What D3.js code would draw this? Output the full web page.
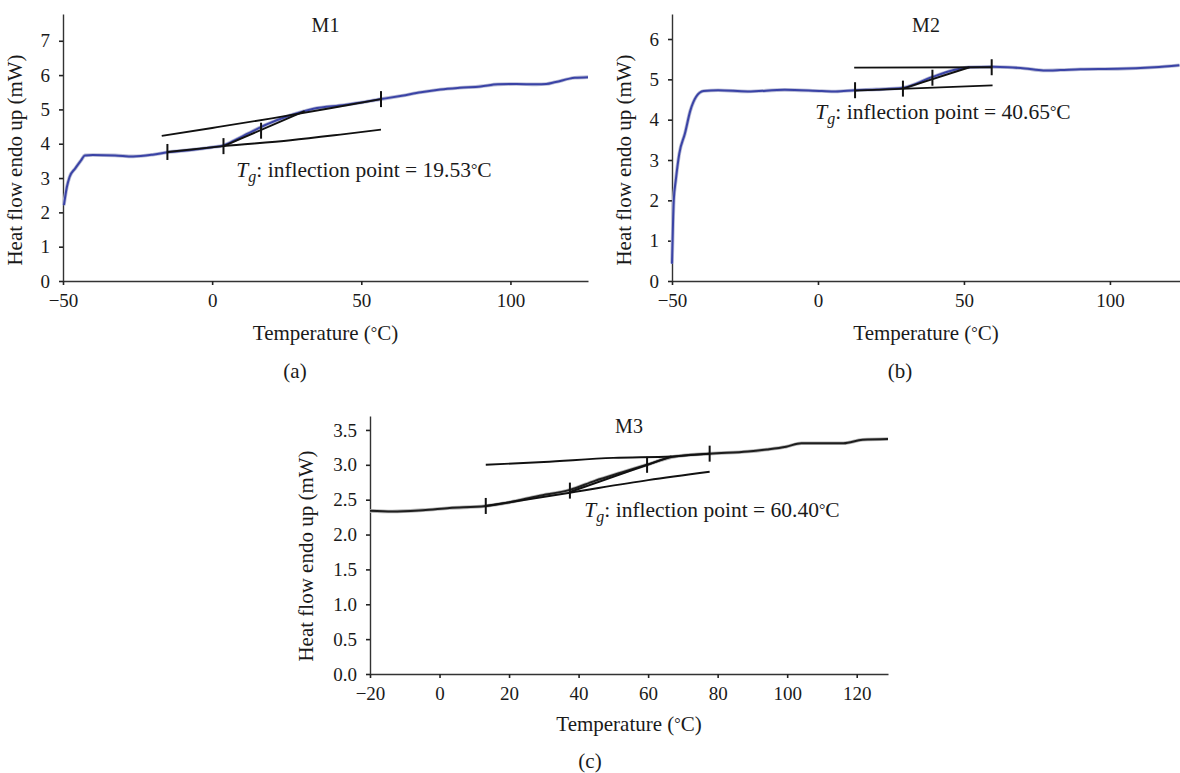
<!DOCTYPE html>
<html><head><meta charset="utf-8">
<script src="https://cdn.jsdelivr.net/npm/d3@7"></script>
<style>
body{margin:0;background:#fff}
svg text{font-family:"Liberation Serif","Times New Roman",serif;fill:#1a1a1a}
</style>
</head><body>
<svg id="chart" width="1180" height="773"></svg>
<script>
// ---------- data (temperature °C, heat flow mW) ----------
const m1Temp = [-49.7,-48.7,-47.8,-45.9,-43.9,-42.7,-40,-32.6,-26.5,-20,-15,-7,0,3.8,8,12.1,18.5,26.3,34,44.3,56.6,63.6,70,76.5,83,90,95.8,102,108.7,112,115.2,121.6,126];
const m1Heat = [2.21,2.74,3.03,3.28,3.52,3.66,3.67,3.66,3.63,3.68,3.75,3.82,3.9,3.95,4.12,4.30,4.57,4.83,5.02,5.13,5.30,5.40,5.50,5.58,5.63,5.67,5.73,5.74,5.73,5.74,5.80,5.92,5.94];
const m1Upper = [[-16.9,4.23],[0,4.46],[20,4.74],[40,5.04],[56.6,5.30]];
const m1Lower = [[-15,3.76],[3.8,3.93],[26.3,4.10],[44.3,4.28],[56.6,4.41]];
const m1Tangent = [[3.8,3.93],[31,4.95]];
const m1Marks = [[-15,3.76],[3.8,3.93],[16.4,4.38],[56.6,5.30]];

const m2Temp = [-50,-49.6,-49.4,-48.7,-47.5,-45.6,-43.7,-41.8,-39.2,-34.2,-24.1,-11.4,1.3,6,12.7,20,29.1,39.2,46,51.9,59.5,65,70.9,77.2,83,89.9,102.6,115.2,123.8];
const m2Heat = [0.43,1.59,2.0,2.5,3.16,3.65,4.23,4.56,4.71,4.73,4.70,4.74,4.71,4.70,4.73,4.75,4.79,5.06,5.22,5.30,5.31,5.30,5.27,5.22,5.23,5.25,5.26,5.30,5.35];
const m2Upper = [[12.4,5.29],[59.5,5.30]];
const m2Lower = [[12.7,4.72],[59.8,4.85]];
const m2Tangent = [[29.1,4.77],[51.9,5.30]];
const m2Marks = [[12.7,4.73],[29.1,4.77],[39.2,5.04],[59.5,5.30]];

const m3Temp = [-20,-13.6,-4.8,2.9,13.3,19.9,28.2,37.5,44.7,52.4,59.7,66.7,77.7,88.7,94.2,99.7,104.1,116.2,121.7,129];
const m3Heat = [2.34,2.33,2.35,2.38,2.41,2.46,2.55,2.64,2.77,2.89,3.0,3.11,3.16,3.19,3.22,3.26,3.31,3.31,3.36,3.37];
const m3Upper = [[13.3,3.0],[30,3.04],[50,3.10],[66.7,3.12],[77.7,3.16]];
const m3Lower = [[13.3,2.41],[37.5,2.60],[60,2.78],[77.7,2.90]];
const m3Tangent = [[37.5,2.61],[66.7,3.12]];
const m3Marks = [[13.3,2.41],[37.5,2.63],[59.7,3.0],[77.7,3.16]];

const xTicksAB = [-50,0,50,100];
const xTicksC = [-20,0,20,40,60,80,100,120];
const yTicksA = [0,1,2,3,4,5,6,7];
const yTicksB = [0,1,2,3,4,5,6];
const yTicksC = [0,0.5,1.0,1.5,2.0,2.5,3.0,3.5];
const sampleNames = ["M1","M2","M3"];
const tgValues = ["19.53","40.65","60.40"];
const panelLetters = ["(a)","(b)","(c)"];

// ---------- layout ----------
const FONT = '"Liberation Serif","Times New Roman",serif';
const panels = [
  {temp:m1Temp, heat:m1Heat, upper:m1Upper, lower:m1Lower, tan:m1Tangent, marks:m1Marks,
   xd:[-50,126], yd:[0,7.78], xr:[63,588], yr:[281,14], xt:xTicksAB, yt:yTicksA, yf:d3.format("d"),
   color:"#3a43a6", halo:"#b9bcd6", ytitle:[22,160], xtitleY:340, letter:[295,378], tg:[364,177], mY:32},
  {temp:m2Temp, heat:m2Heat, upper:m2Upper, lower:m2Lower, tan:m2Tangent, marks:m2Marks,
   xd:[-50,124], yd:[0,6.62], xr:[672,1180], yr:[281,14], xt:xTicksAB, yt:yTicksB, yf:d3.format("d"),
   color:"#3a43a6", halo:"#b9bcd6", ytitle:[631,160], xtitleY:340, letter:[900,378], tg:[943,119], mY:32},
  {temp:m3Temp, heat:m3Heat, upper:m3Upper, lower:m3Lower, tan:m3Tangent, marks:m3Marks,
   xd:[-20,129], yd:[0,3.7], xr:[370,888], yr:[674,416], xt:xTicksC, yt:yTicksC, yf:d3.format(".1f"),
   color:"#1e1e1e", halo:"#b5b5b5", ytitle:[313,556], xtitleY:731, letter:[590,768], tg:[712,517], mY:433}
];

const svg = d3.select("#chart");

panels.forEach((p,i)=>{
  const x = d3.scaleLinear().domain(p.xd).range(p.xr);
  const y = d3.scaleLinear().domain(p.yd).range(p.yr);
  const g = svg.append("g");

  // axes
  const xa = g.append("g").attr("transform",`translate(0,${p.yr[0]})`)
    .call(d3.axisBottom(x).tickValues(p.xt).tickSize(4).tickSizeOuter(0).tickPadding(9));
  const ya = g.append("g").attr("transform",`translate(${p.xr[0]},0)`)
    .call(d3.axisLeft(y).tickValues(p.yt).tickFormat(p.yf).tickSize(4).tickSizeOuter(0).tickPadding(9));
  [xa,ya].forEach(a=>{
    a.attr("font-family",FONT).attr("font-size",19);
    a.selectAll("path.domain").attr("stroke","#333").attr("stroke-width",1.4);
    a.selectAll(".tick line").attr("stroke","#222").attr("stroke-width",1.6);
    a.selectAll(".tick text").style("font-family",FONT).style("font-size","19px").attr("fill","#1a1a1a");
  });

  // titles
  g.append("text").attr("transform",`translate(${p.ytitle[0]},${p.ytitle[1]}) rotate(-90)`)
    .attr("text-anchor","middle").style("font-size","21px").text("Heat flow endo up (mW)");
  const xt = g.append("text").attr("x",(p.xr[0]+p.xr[1])/2).attr("y",p.xtitleY)
    .attr("text-anchor","middle").style("font-size","21px");
  xt.append("tspan").text("Temperature (");
  xt.append("tspan").text("°").attr("dy",-2).style("font-size","16px");
  xt.append("tspan").text("C)").attr("dy",2);
  g.append("text").attr("x",p.letter[0]).attr("y",p.letter[1]).attr("text-anchor","middle")
    .style("font-size","21px").text(panelLetters[i]);
  g.append("text").attr("x",(p.xr[0]+p.xr[1])/2).attr("y",p.mY).attr("text-anchor","middle")
    .style("font-size","20px").text(sampleNames[i]);

  // curve
  const pts = p.temp.map((t,k)=>[t,p.heat[k]]);
  const line = d3.line().x(d=>x(d[0])).y(d=>y(d[1])).curve(d3.curveMonotoneX);
  g.append("path").datum(pts).attr("d",line).attr("fill","none").attr("stroke",p.halo).attr("stroke-width",3.6);
  g.append("path").datum(pts).attr("d",line).attr("fill","none").attr("stroke",p.color).attr("stroke-width",2);

  // construction lines
  [p.upper,p.lower,p.tan].forEach(seg=>{
    g.append("path").datum(seg).attr("d",line).attr("fill","none").attr("stroke","#111").attr("stroke-width",1.9);
  });
  g.selectAll(null).data(p.marks).enter().append("line")
    .attr("x1",d=>x(d[0])).attr("x2",d=>x(d[0]))
    .attr("y1",d=>y(d[1])-8).attr("y2",d=>y(d[1])+8)
    .attr("stroke","#111").attr("stroke-width",2);

  // Tg annotation
  const tg = g.append("text").attr("x",p.tg[0]).attr("y",p.tg[1]).attr("text-anchor","middle").style("font-size","21.5px");
  tg.append("tspan").text("T").style("font-style","italic");
  tg.append("tspan").text("g").style("font-style","italic").style("font-size","16px").attr("dy",5);
  tg.append("tspan").text(": inflection point = " + tgValues[i]).attr("dy",-5);
  tg.append("tspan").text("°").attr("dy",-2).style("font-size","16px");
  tg.append("tspan").text("C").attr("dy",2);
});
</script>
</body></html>
